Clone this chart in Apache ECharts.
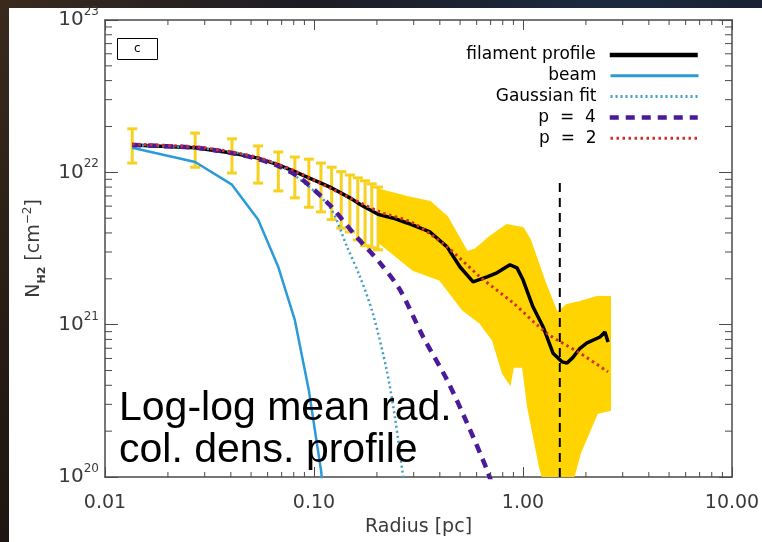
<!DOCTYPE html>
<html><head><meta charset="utf-8">
<script src="https://cdn.jsdelivr.net/npm/echarts@6/dist/echarts.min.js"></script>
<style>html,body{margin:0;padding:0;background:#fff}#c{width:762px;height:542px}</style>
</head><body><div id="c"></div>
<script>
// ---- axis ticks ----
const xTicks = [0.01, 0.1, 1, 10];
const xTickLabels = ['0.01', '0.10', '1.00', '10.00'];
const yTicks = [1e20, 1e21, 1e22, 1e23];
const yTickExps = ['20', '21', '22', '23'];

// ---- filament profile (black) ----
const profR = [0.0135,0.027,0.0405,0.054,0.0675,0.081,0.0945,0.108,0.1215,0.135,0.1485,0.162,0.1755,0.189,0.2025,0.24,0.279,0.359,0.433,0.500,0.577,0.673,0.751,0.866,0.936,1.0,1.116,1.247,1.392,1.537,1.625,1.734,1.874,2.024,2.336,2.467,2.552];
const profN = [1.51e22,1.45e22,1.34e22,1.24e22,1.12e22,1.01e22,9.2e21,8.5e21,7.9e21,7.3e21,6.8e21,6.3e21,5.9e21,5.6e21,5.3e21,5.0e21,4.65e21,4.06e21,3.24e21,2.39e21,1.91e21,2.06e21,2.19e21,2.47e21,2.36e21,1.97e21,1.31e21,9.7e20,6.5e20,5.7e20,5.6e20,6.1e20,7.0e20,7.6e20,8.3e20,8.95e20,7.7e20];

// ---- error bars (discrete inner bins) ----
const errR  = [0.0135,0.027,0.0405,0.054,0.0675,0.081,0.0945,0.108,0.1215,0.135,0.1485,0.162,0.1755,0.189,0.2025];
const errHi = [1.93e22,1.81e22,1.66e22,1.49e22,1.36e22,1.26e22,1.22e22,1.15e22,1.08e22,1.01e22,9.6e21,9.2e21,8.8e21,8.4e21,8.0e21];
const errLo = [1.15e22,1.08e22,9.9e21,8.5e21,7.55e21,6.8e21,5.9e21,5.5e21,4.9e21,4.3e21,4.06e21,3.6e21,3.3e21,3.2e21,3.1e21];

// ---- dense error band (outer bins) ----
const bandTopR = [0.207,0.279,0.359,0.433,0.540,0.589,0.695,0.838,1.0,1.08,1.274,1.455,1.625,1.874,2.26,2.61];
const bandTopN = [7.66e21,6.9e21,6.4e21,5.1e21,3.0e21,3.1e21,3.77e21,4.5e21,4.3e21,3.6e21,1.88e21,1.19e21,1.35e21,1.41e21,1.52e21,1.52e21];
const bandBotR = [0.207,0.298,0.401,0.516,0.623,0.718,0.802,0.866,0.896,1.0,1.057,1.206,1.30,1.625,1.874,2.26,2.61];
const bandBotN = [3.44e21,2.29e21,1.97e21,1.25e21,1.03e21,7.9e20,4.8e20,4.1e20,5.3e20,5.3e20,2.9e20,1.16e20,8e19,7e19,1.44e20,2.63e20,2.75e20];

// ---- beam ----
const beamR = [0.0135,0.027,0.0405,0.054,0.0675,0.081,0.0945,0.108,0.1215];
const beamN = [1.45e22,1.17e22,8.3e21,4.9e21,2.39e21,1.07e21,3.7e20,1.11e20,2.5e19];

// ---- Gaussian fit ----
const gaussR = [0.0135,0.027,0.0405,0.054,0.0675,0.083,0.119,0.144,0.166,0.191,0.223,0.245,0.267,0.286];
const gaussN = [1.51e22,1.45e22,1.36e22,1.24e22,1.12e22,9.3e21,5.9e21,3.24e21,2.06e21,1.19e21,5.0e20,2.37e20,1.0e20,5e19];

// ---- p = 4 ----
const p4R = [0.0135,0.027,0.0405,0.054,0.0675,0.0857,0.119,0.157,0.207,0.258,0.333,0.433,0.540,0.673,0.73];
const p4N = [1.51e22,1.45e22,1.34e22,1.22e22,1.10e22,9.2e21,6.1e21,3.88e21,2.54e21,1.69e21,8.3e20,4.34e20,2.26e20,1.11e20,8e19];

// ---- p = 2 ----
const p2R = [0.0135,0.027,0.0405,0.054,0.0675,0.081,0.119,0.207,0.298,0.433,0.623,0.896,1.30,1.874,2.552];
const p2N = [1.53e22,1.47e22,1.36e22,1.25e22,1.13e22,1.02e22,7.9e21,5.5e21,4.65e21,3.24e21,2.06e21,1.39e21,8.8e20,6.5e20,4.9e20];

// ---- vertical marker ----
const markR = [1.5, 1.5];
const markN = [1e20, 8.5e21];

const legendNames = ['filament profile', 'beam', 'Gaussian fit', 'p = 4', 'p = 2'];

// ---------------------------------------------------------------
const xMin = 0.01, xMax = 10, yMin = 1e20, yMax = 1e23;
const minorMult = [2,3,4,5,6,7,8,9];
const xMinor = []; [0.01,0.1,1].forEach(d => minorMult.forEach(m => xMinor.push(d*m)));
const yMinor = []; [1e20,1e21,1e22].forEach(d => minorMult.forEach(m => yMinor.push(d*m)));

const axisColor = '#4a4a4a';
const tickFont = 'DejaVu Sans';
const pairs = (a, b) => a.map((v, i) => [v, b[i]]);
const legendLineWidths = [4.5, 3, 3, 4.5, 3];

const chart = echarts.init(document.getElementById('c'), null, {renderer: 'canvas'});

function lineEl(x1, y1, x2, y2, w) {
  return {type: 'line', shape: {x1, y1, x2, y2}, style: {stroke: axisColor, lineWidth: w || 1}};
}

const gold = '#f7d11e';
const bandGold = '#ffd400';

const option = {
  backgroundColor: '#ffffff',
  animation: false,
  grid: {left: 105, right: 30, top: 20, bottom: 65, containLabel: false, outerBoundsMode: 'none'},
  title: [
    {text: 'c', left: 117, top: 38, padding: [4, 17, 4, 17], borderWidth: 1, borderColor: '#000',
     textStyle: {fontSize: 12, fontWeight: 'normal', fontFamily: tickFont, color: '#000', lineHeight: 14}},
    {text: 'Log-log mean rad.\ncol. dens. profile', left: 114, top: 383,
     textStyle: {fontSize: 41, fontWeight: 'normal', fontFamily: 'Liberation Sans', color: '#000', lineHeight: 42}}
  ],
  legend: legendNames.map((nm, i) => ({
    data: [nm], right: 62, top: 45 + i * 20.8, orient: 'vertical', align: 'right',
    itemWidth: 88, itemHeight: 14, padding: 0, itemGap: 0, selectedMode: false,
    itemStyle: {opacity: 0},
    lineStyle: {width: legendLineWidths[i]},
    formatter: n => n.replace(' = ', '  =  '),
    textStyle: {fontSize: 17, fontFamily: tickFont, color: '#000', padding: [0, 9, 0, 0], lineHeight: 20}
  })),
  xAxis: [
    {type: 'log', logBase: 10, min: xMin, max: xMax, position: 'bottom',
     axisLine: {lineStyle: {color: axisColor, width: 1.5}},
     axisTick: {inside: true, length: 10, lineStyle: {color: axisColor, width: 1}},
     splitLine: {show: false}, minorTick: {show: false},
     axisLabel: {margin: 17, fontSize: 19, fontFamily: tickFont, color: '#3a3a3a',
       formatter: v => { const i = xTicks.findIndex(t => Math.abs(Math.log10(t) - Math.log10(v)) < 1e-6); return i >= 0 ? xTickLabels[i] : ''; }},
     name: 'Radius [pc]', nameLocation: 'middle', nameGap: 37,
     nameTextStyle: {fontSize: 19, fontFamily: tickFont, color: '#3a3a3a'}},
    {type: 'log', logBase: 10, min: xMin, max: xMax, position: 'top',
     axisLine: {lineStyle: {color: axisColor, width: 1.5}},
     axisTick: {inside: true, length: 10, lineStyle: {color: axisColor, width: 1}},
     axisLabel: {show: false}, splitLine: {show: false}}
  ],
  yAxis: [
    {type: 'log', logBase: 10, min: yMin, max: yMax, position: 'left',
     axisLine: {lineStyle: {color: axisColor, width: 1.5}},
     axisTick: {inside: true, length: 13, lineStyle: {color: axisColor, width: 1}},
     splitLine: {show: false},
     axisLabel: {margin: 6, color: '#3a3a3a', fontFamily: tickFont,
       formatter: v => { const i = yTicks.findIndex(t => Math.abs(Math.log10(t) - Math.log10(v)) < 1e-6); return i >= 0 ? '{b|10}{s|' + yTickExps[i] + '}' : ''; },
       rich: {b: {fontSize: 20, lineHeight: 28, fontFamily: tickFont, color: '#3a3a3a'},
              s: {fontSize: 12, lineHeight: 12, verticalAlign: 'top', fontFamily: tickFont, color: '#3a3a3a'}}},
     name: '{n|N}{s|H2} {n|[cm}{p|−2}{n|]}', nameLocation: 'middle', nameRotate: 90, nameGap: 52,
     nameTextStyle: {fontFamily: tickFont, color: '#3a3a3a', fontSize: 19,
       rich: {n: {fontSize: 19, lineHeight: 26, fontFamily: tickFont, color: '#3a3a3a'},
              s: {fontSize: 11, lineHeight: 11, verticalAlign: 'bottom', fontWeight: 'bold', fontFamily: tickFont, color: '#3a3a3a'},
              p: {fontSize: 12, lineHeight: 12, verticalAlign: 'top', fontFamily: tickFont, color: '#3a3a3a'}}}},
    {type: 'log', logBase: 10, min: yMin, max: yMax, position: 'right',
     axisLine: {lineStyle: {color: axisColor, width: 1.5}},
     axisTick: {inside: true, length: 13, lineStyle: {color: axisColor, width: 1}},
     axisLabel: {show: false}, splitLine: {show: false}}
  ],
  graphic: [
    {type: 'rect', shape: {x: 0, y: 0, width: 762, height: 8}, silent: true,
     style: {fill: new echarts.graphic.LinearGradient(0, 0, 1, 0, [
       {offset: 0, color: '#3a2a1e'}, {offset: 0.4, color: '#1d1c24'}, {offset: 0.8, color: '#1c2a40'}, {offset: 1, color: '#1a2233'}])}},
    {type: 'rect', shape: {x: 0, y: 0, width: 9, height: 542}, silent: true,
     style: {fill: new echarts.graphic.LinearGradient(0, 0, 0, 1, [
       {offset: 0, color: '#3a2a1e'}, {offset: 0.5, color: '#2a1e16'}, {offset: 1, color: '#1e1612'}])}}
  ],
  series: [
    // dense error band
    {type: 'custom', name: 'band', silent: true, clip: true, z: 1,
     data: pairs(bandTopR, bandTopN), encode: {x: 0, y: 1},
     renderItem: (params, api) => {
       if (params.dataIndex !== 0) return null;
       const pts = [];
       bandTopR.forEach((r, i) => pts.push(api.coord([r, bandTopN[i]])));
       for (let i = bandBotR.length - 1; i >= 0; i--) pts.push(api.coord([bandBotR[i], bandBotN[i]]));
       return {type: 'polygon', shape: {points: pts}, style: {fill: bandGold, stroke: bandGold, lineWidth: 2}};
     }},
    // discrete error bars
    {type: 'custom', name: 'errors', silent: true, clip: true, z: 1,
     data: errR.map((r, i) => [r, errLo[i], errHi[i]]), encode: {x: 0, y: [1, 2]},
     renderItem: (params, api) => {
       const r = api.value(0);
       const lo = api.coord([r, api.value(1)]);
       const hi = api.coord([r, api.value(2)]);
       const st = {stroke: gold, lineWidth: 3};
       return {type: 'group', children: [
         {type: 'line', shape: {x1: lo[0], y1: lo[1], x2: hi[0], y2: hi[1]}, style: st},
         {type: 'line', shape: {x1: lo[0] - 5, y1: lo[1], x2: lo[0] + 5, y2: lo[1]}, style: st},
         {type: 'line', shape: {x1: hi[0] - 5, y1: hi[1], x2: hi[0] + 5, y2: hi[1]}, style: st}
       ]};
     }},
    {type: 'line', name: 'filament profile', data: pairs(profR, profN), symbol: 'none', z: 3,
     lineStyle: {color: '#000', width: 3.5}, itemStyle: {color: '#000'}},
    {type: 'line', name: 'beam', data: pairs(beamR, beamN), symbol: 'none', z: 3,
     lineStyle: {color: '#2b9ad8', width: 2.5}, itemStyle: {color: '#2b9ad8'}},
    {type: 'line', name: 'Gaussian fit', data: pairs(gaussR, gaussN), symbol: 'none', smooth: 0.3, z: 3,
     lineStyle: {color: '#3f9fc6', width: 2.5, type: [2, 3]}, itemStyle: {color: '#3f9fc6'}},
    {type: 'line', name: 'p = 4', data: pairs(p4R, p4N), symbol: 'none', smooth: 0.3, z: 4,
     lineStyle: {color: '#4a1a9a', width: 4.5, type: [9, 7]}, itemStyle: {color: '#4a1a9a'}},
    {type: 'line', name: 'p = 2', data: pairs(p2R, p2N), symbol: 'none', smooth: 0.3, z: 4,
     lineStyle: {color: '#cf2f2f', width: 3, type: [2.5, 3.5]}, itemStyle: {color: '#cf2f2f'}},
    {type: 'line', name: 'marker', data: pairs(markR, markN), symbol: 'none', z: 5,
     lineStyle: {color: '#000', width: 2, type: [9, 6]}},
    // minor ticks (x)
    {type: 'custom', name: 'xminor', silent: true, clip: false, z: 6,
     data: xMinor.map(v => [v, 1e21]), encode: {x: 0, y: 1},
     renderItem: (params, api) => {
       const v = api.value(0); const b = api.coord([v, yMin]); const t = api.coord([v, yMax]);
       return {type: 'group', children: [lineEl(b[0], b[1], b[0], b[1] - 5), lineEl(t[0], t[1], t[0], t[1] + 5)]};
     }},
    // minor ticks (y)
    {type: 'custom', name: 'yminor', silent: true, clip: false, z: 6,
     data: yMinor.map(v => [0.1, v]), encode: {x: 0, y: 1},
     renderItem: (params, api) => {
       const v = api.value(1); const l = api.coord([xMin, v]); const r = api.coord([xMax, v]);
       return {type: 'group', children: [lineEl(l[0], l[1], l[0] + 7, l[1]), lineEl(r[0], r[1], r[0] - 7, r[1])]};
     }}
  ]
};
chart.setOption(option);
</script>
</body></html>
